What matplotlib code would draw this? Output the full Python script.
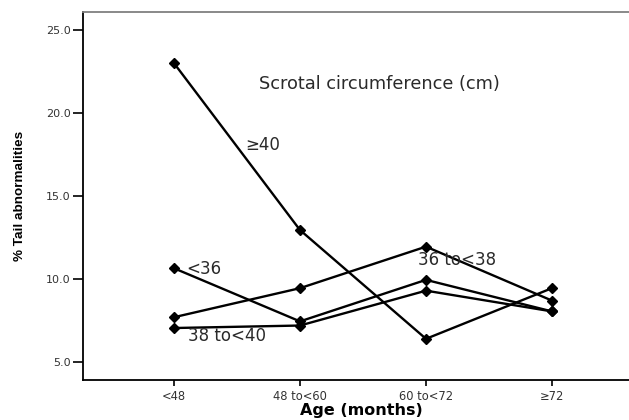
import matplotlib
matplotlib.use("Agg")
import matplotlib.pyplot as plt

categories = ["<48", "48 to<60", "60 to<72", "≥72"]
ge40 = [23.0, 12.95, 6.4, 9.45]
lt36 = [10.65, 7.45, 9.95, 8.05]
s36_38 = [7.7, 9.45, 11.95, 8.7]
s38_40 = [7.05, 7.2, 9.3, 8.05]
series = [("≥40", ge40), ("<36", lt36), ("36 to<38", s36_38), ("38 to<40", s38_40)]
yticks = [5.0, 10.0, 15.0, 20.0, 25.0]

W, H = 629, 420
fig = plt.figure(figsize=(W/100, H/100), dpi=100)
ax = fig.add_axes([83/W, 1-380/H, 546/W, 368/H])
x = list(range(len(categories)))
for name, vals in series:
    ax.plot(x, vals, color="black", lw=1.7, marker="D", markersize=5.5, zorder=3)

ax.set_xlim(-0.722, 3.611)
ax.set_ylim(3.92, 26.08)
ax.set_xticks(x)
ax.set_xticklabels(categories, fontsize=8.3, family="DejaVu Sans", color="#333333")
ax.set_yticks(yticks)
ax.set_yticklabels([f"{v:.1f}" for v in yticks], fontsize=8, family="DejaVu Sans", color="#333333")
ax.tick_params(axis="y", length=7, width=1.2, pad=2)
ax.tick_params(axis="x", length=4, width=1.2, pad=3)
ax.spines["right"].set_visible(False)
ax.spines["top"].set_color("#808080")
ax.spines["top"].set_linewidth(1.3)
ax.spines["left"].set_linewidth(1.3)
ax.spines["bottom"].set_linewidth(1.3)

fig.text(361/W, 1-411/H, "Age (months)", fontsize=11.5, fontweight="bold",
         family="DejaVu Sans", ha="center", va="center")
fig.text(20/W, 1-196/H, "% Tail abnormalities", fontsize=9.7, fontweight="bold",
         family="Liberation Sans", ha="center", va="center", rotation=90)

def ypx(py):
    return 25 - (py - 30) / 16.67

tk = dict(family="DejaVu Sans", color="#2a2a2a", va="center")
ax.text(1.627, ypx(84), "Scrotal circumference (cm)", ha="center", fontsize=12.8, **tk)
ax.text(0.563, ypx(146), "≥40", ha="left", fontsize=12, **tk)
ax.text(0.095, ypx(270), "<36", ha="left", fontsize=12, **tk)
ax.text(1.937, ypx(261), "36 to<38", ha="left", fontsize=12, **tk)
ax.text(0.111, ypx(337), "38 to<40", ha="left", fontsize=12, **tk)

fig.savefig("out.png", dpi=100)
